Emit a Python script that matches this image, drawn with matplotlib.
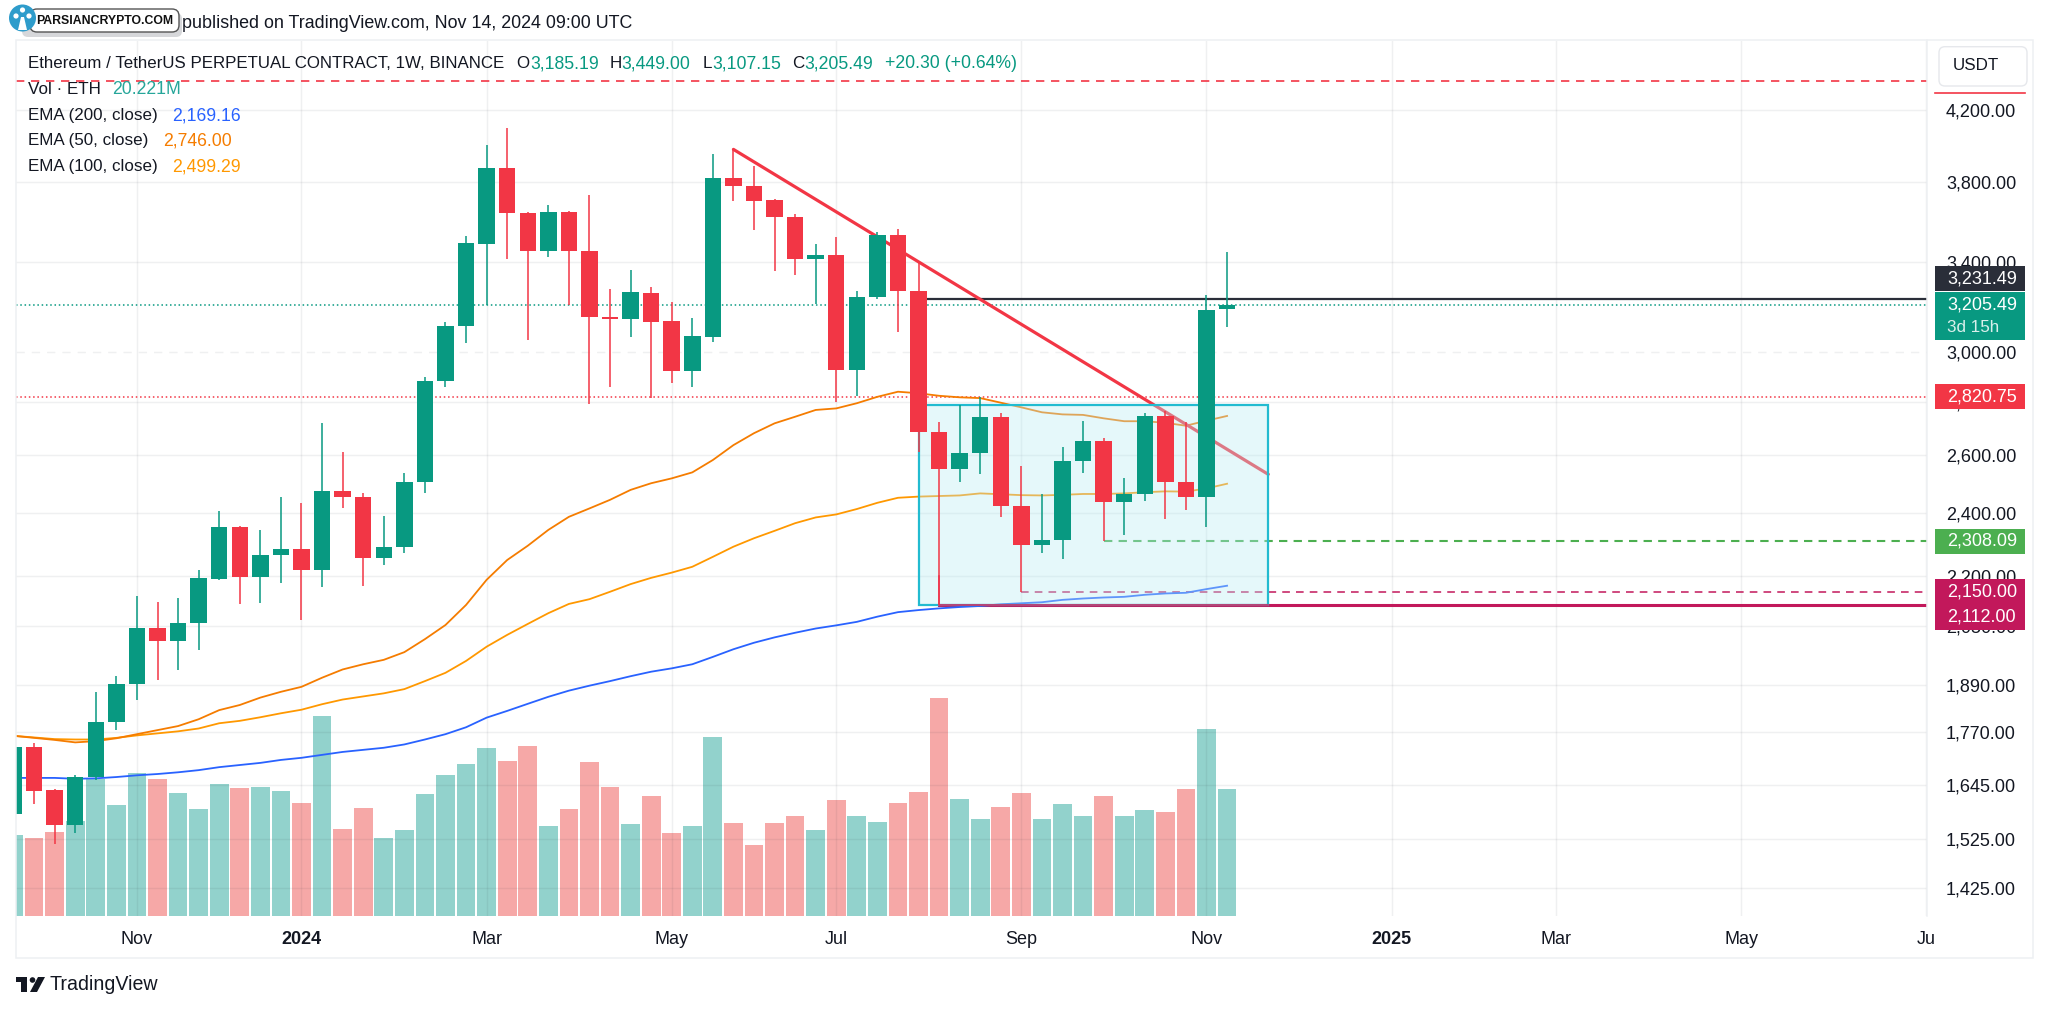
import matplotlib
matplotlib.use("Agg")
import matplotlib.pyplot as plt
from matplotlib.patches import Rectangle, FancyBboxPatch, Circle, Polygon
from matplotlib.ticker import NullLocator

plt.rcParams['font.family'] = ['Liberation Sans', 'DejaVu Sans']

# --- weekly candles ---
opens = [1579, 1733, 1633, 1556, 1662, 1795, 1892, 2045, 2010, 2059,
         2189, 2354, 2195, 2264, 2284, 2218, 2474, 2455, 2254, 2288,
         2504, 2883, 3111, 3488, 3876, 3642, 3452, 3647, 3453, 3152,
         3140, 3259, 3132, 2924, 3066, 3823, 3779, 3705, 3618, 3416,
         3434, 2928, 3238, 3531, 3265, 2687, 2551, 2609, 2741, 2424,
         2295, 2312, 2578, 2653, 2437, 2465, 2745, 2504, 2455, 3185.19]
highs = [1740, 1744, 1635, 1668, 1872, 1914, 2139, 2121, 2133, 2217,
         2407, 2357, 2344, 2455, 2432, 2718, 2612, 2466, 2391, 2536,
         2897, 3129, 3526, 4001, 4094, 3647, 3681, 3650, 3732, 3274,
         3363, 3283, 3218, 3145, 3951, 3976, 3887, 3711, 3635, 3487,
         3519, 3266, 3544, 3560, 3395, 2722, 2788, 2818, 2758, 2563,
         2464, 2631, 2727, 2662, 2518, 2758, 2766, 2724, 3248, 3449.00]
lows = [1570, 1602, 1515, 1539, 1656, 1775, 1851, 1903, 1930, 1984,
        2187, 2114, 2117, 2178, 2068, 2166, 2415, 2168, 2232, 2269,
        2468, 2857, 3038, 3203, 3413, 3052, 3423, 3203, 2792, 2860,
        3063, 2814, 2876, 2857, 3044, 3703, 3555, 3358, 3340, 3209,
        2801, 2823, 3230, 3086, 2613, 2112, 2506, 2532, 2387, 2150,
        2271, 2252, 2538, 2308, 2327, 2441, 2381, 2410, 2354, 3107.15]
closes = [1733, 1631, 1556, 1663, 1795, 1892, 2045, 2010, 2061, 2192,
          2352, 2195, 2264, 2284, 2218, 2474, 2455, 2254, 2288, 2504,
          2883, 3113, 3490, 3876, 3642, 3452, 3647, 3452, 3150, 3140,
          3260, 3130, 2924, 3067, 3823, 3777, 3703, 3618, 3416, 3435,
          2928, 3239, 3531, 3265, 2687, 2551, 2609, 2741, 2424, 2295,
          2312, 2580, 2653, 2437, 2465, 2745, 2504, 2455, 3181, 3205.49]
volumes = [12.88, 12.4, 13.36, 15.17, 21.8, 17.72, 22.78, 21.82, 19.64, 17.14,
           21.07, 20.49, 20.6, 19.9, 18.04, 31.93, 13.84, 17.24, 12.51, 13.73,
           19.53, 22.51, 24.21, 26.77, 24.69, 27.09, 14.42, 17.08, 24.53, 20.6,
           14.64, 19.11, 13.25, 14.42, 28.58, 14.9, 11.28, 14.9, 15.91, 13.73,
           18.52, 15.97, 15.06, 18.04, 19.74, 34.75, 18.63, 15.43, 17.46, 19.64,
           15.54, 17.83, 15.91, 19.16, 15.97, 16.87, 16.6, 20.33, 29.91, 20.221]

ema50 = [1761, 1756, 1751, 1745, 1748, 1755, 1765, 1775, 1785, 1802,
         1825, 1838, 1857, 1872, 1885, 1909, 1931, 1945, 1957, 1978,
         2014, 2054, 2112, 2187, 2248, 2293, 2344, 2387, 2415, 2444,
         2478, 2501, 2518, 2539, 2583, 2637, 2681, 2718, 2743, 2769,
         2775, 2795, 2820, 2840, 2834, 2824, 2818, 2815, 2797, 2779,
         2760, 2752, 2750, 2737, 2726, 2726, 2720, 2709, 2728, 2746.00]
ema100 = [1761, 1757, 1753, 1752, 1752, 1756, 1762, 1767, 1772, 1779,
          1792, 1798, 1807, 1817, 1826, 1840, 1852, 1860, 1868, 1879,
          1900, 1922, 1954, 1993, 2026, 2057, 2088, 2115, 2129, 2151,
          2174, 2193, 2209, 2227, 2258, 2290, 2317, 2341, 2366, 2385,
          2395, 2413, 2434, 2451, 2455, 2457, 2459, 2466, 2463, 2460,
          2459, 2461, 2464, 2464, 2466, 2470, 2473, 2472, 2483, 2499.29]
ema200 = [1661, 1661, 1661, 1659, 1660, 1663, 1667, 1670, 1674, 1679,
          1686, 1691, 1696, 1703, 1708, 1715, 1722, 1727, 1732, 1740,
          1752, 1765, 1782, 1806, 1823, 1841, 1859, 1875, 1888, 1900,
          1913, 1925, 1934, 1945, 1965, 1986, 2004, 2019, 2032, 2044,
          2053, 2063, 2078, 2091, 2097, 2102, 2106, 2109, 2114, 2117,
          2120, 2127, 2131, 2134, 2136, 2142, 2146, 2148, 2159, 2169.16]

price_ticks = [4200, 3800, 3400, 3000, 2800, 2600, 2400, 2200, 2050, 1890, 1770, 1645, 1525, 1425]
month_pos = [6, 14, 23, 32, 40, 49, 58, 67, 75, 84, 93]
month_labels = ['Nov', '2024', 'Mar', 'May', 'Jul', 'Sep', 'Nov', '2025', 'Mar', 'May', 'Ju']

GREEN = '#089981'
RED = '#F23645'
INK = '#131722'
W, H = 2048, 1011

fig = plt.figure(figsize=(W / 100, H / 100), dpi=100, facecolor='white')

def pt(px):
    return px * 0.72

# pane: 16..1927 px across, 41..916 px down
rect = [16 / W, 1 - 916 / H, (1927 - 16) / W, (916 - 41) / H]
vol = fig.add_axes(rect)
ax = fig.add_axes(rect, sharex=vol)
ax.patch.set_visible(False)

x = list(range(len(opens)))
up = [c >= o for o, c in zip(opens, closes)]

# --- volume ---
vol.bar(x, volumes, width=0.91,
        color=['#26A69A' if u else '#EF5350' for u in up], alpha=0.5, linewidth=0)
vol.set_ylim(0, 139.7)
vol.set_yticks([])
vol.tick_params(axis='x', length=0, labelbottom=False)
for s in vol.spines.values():
    s.set_visible(False)

# --- price axis ---
ax.set_yscale('log')
ax.set_xlim(0.12, 93.03)
ax.set_ylim(1371.1, 4622.5)
ax.yaxis.tick_right()
ax.set_yticks(price_ticks)
ax.set_yticklabels([f'{p:,.2f}' for p in price_ticks], fontsize=pt(18), color=INK)
ax.yaxis.set_minor_locator(NullLocator())
ax.tick_params(axis='y', length=0, pad=pt(19))
ax.set_xticks(month_pos)
ax.set_xticklabels(month_labels, fontsize=pt(18), color=INK)
ax.get_xticklabels()[1].set_fontweight('bold')
ax.get_xticklabels()[7].set_fontweight('bold')
ax.tick_params(axis='x', length=0, pad=pt(15))
ax.grid(True, color='#2A2E39', alpha=0.07, linewidth=1.0)
ax.set_axisbelow(True)
ax.get_ygridlines()[price_ticks.index(3000)].set_linestyle((0, (6, 5)))
for s in ax.spines.values():
    s.set_visible(False)

# --- price lines ---
ax.axhline(4372.6, color=RED, lw=1.2, ls=(0, (5, 4)), zorder=2)
ax.axhline(3205.49, color=GREEN, lw=1.1, ls=(0, (1, 1.8)), zorder=2)
ax.axhline(2820.75, color=RED, lw=1.1, ls=(0, (1, 1.8)), zorder=2)
ax.plot([44.4, 93.03], [3231.49, 3231.49], color='#2A2E39', lw=1.6, zorder=2)
ax.plot([53, 93.03], [2308.09, 2308.09], color='#4CAF50', lw=1.5, ls=(0, (4, 3)), zorder=2)
ax.plot([49, 93.03], [2150, 2150], color='#C2185B', lw=1.1, ls=(0, (5, 4)), zorder=2)
ax.plot([45, 93.03], [2112, 2112], color='#C2185B', lw=2.2, zorder=2)

# --- EMAs ---
ax.plot(x, ema200, color='#2962FF', lw=1.3, zorder=2)
ax.plot(x, ema100, color='#FF9800', lw=1.3, zorder=2)
ax.plot(x, ema50, color='#F57C00', lw=1.3, zorder=2)

# --- trend line, then the box over it (washes the lines out), the candles stay on top ---
ax.plot([35, 61], [3976.5, 2532.3], color=RED, lw=2.3, zorder=2, solid_capstyle='round')
ax.add_patch(Rectangle((44, 2112), 17, 2788 - 2112, facecolor='white', alpha=0.3, lw=0, zorder=3))
ax.add_patch(Rectangle((44, 2112), 17, 2788 - 2112, facecolor='#00BCD4', alpha=0.1, lw=0, zorder=3))
ax.add_patch(Rectangle((44, 2112), 17, 2788 - 2112, fill=False, edgecolor='#22BBD0', lw=1.6, zorder=3))
ax.plot([45, 45, 61], [2200, 2112, 2112], color='#E0245E', lw=1.1, zorder=3)

# --- candles ---
cols = [GREEN if u else RED for u in up]
ax.vlines(x, lows, highs, colors=cols, lw=1.1, zorder=4)
ax.bar(x, [abs(c - o) for o, c in zip(opens, closes)], bottom=[min(o, c) for o, c in zip(opens, closes)],
       width=0.8, color=cols, linewidth=0, zorder=4)

# --- overlay in pixels: frame, header, legend, tags, logos ---
ov = fig.add_axes([0, 0, 1, 1])
ov.set_xlim(0, W)
ov.set_ylim(H, 0)
ov.axis('off')
ov.patch.set_visible(False)

ov.add_patch(Rectangle((16, 40), 2033 - 16, 958 - 40, fill=False, edgecolor='#EEF0F3', lw=1.1))
ov.plot([1927, 1927], [40, 916], color='#EEF0F3', lw=1.1)

def txt(xp, yp, s, color=INK, size=17, **kw):
    ov.text(xp, yp, s, color=color, fontsize=pt(size), va='center', ha=kw.pop('ha', 'left'), **kw)

txt(182, 23.5, 'published on TradingView.com, Nov 14, 2024 09:00 UTC', size=17.85)

LEG = '#089981'
NUM = 17.6
txt(28, 64, 'Ethereum / TetherUS PERPETUAL CONTRACT, 1W, BINANCE', size=16.85)
for xl, l, xv, v in [(516, 'O', 530, '3,185.19'), (610, 'H', 621, '3,449.00'),
                     (703, 'L', 712, '3,107.15'), (792, 'C', 804, '3,205.49')]:
    txt(xl, 64, l)
    txt(xv, 64, v, color=LEG, size=NUM)
txt(885, 64, '+20.30 (+0.64%)', color=LEG, size=NUM)
txt(28, 90, 'Vol · ETH')
txt(112, 90, '20.221M', color='#26A69A', size=NUM)
txt(28, 115.7, 'EMA (200, close)')
txt(172, 115.7, '2,169.16', color='#2962FF', size=NUM)
txt(28, 141, 'EMA (50, close)')
txt(163, 141, '2,746.00', color='#F57C00', size=NUM)
txt(28, 166.7, 'EMA (100, close)')
txt(172, 166.7, '2,499.29', color='#FF9800', size=NUM)

# USDT button
ov.add_patch(FancyBboxPatch((1939, 46.7), 88, 39.3, boxstyle='round,pad=0,rounding_size=6',
                            facecolor='white', edgecolor='#E6E8EC', lw=1))
txt(1953, 66, 'USDT', size=17)
ov.plot([1935, 2025], [92.7, 92.7], color=RED, lw=1.2)

# price tags, shift is how far the label got pushed off its price
def price_y(p):
    return ov.transData.inverted().transform(ax.transData.transform((0, p)))[1]

tags = [(3231.49, '3,231.49', '#2A2E39', -20, 25),
        (3205.49, '3,205.49', GREEN, 0, 25),
        (2820.75, '2,820.75', RED, 0, 25),
        (2308.09, '2,308.09', '#4CAF50', 0, 25),
        (2150.00, '2,150.00', '#C2185B', 0, 26),
        (2112.00, '2,112.00', '#C2185B', 12.5, 25)]
for p, s, c, shift, h in tags:
    yc = price_y(p) + shift
    ov.add_patch(Rectangle((1935, yc - h / 2), 90, h, facecolor=c, lw=0))
    txt(1947, yc, s, color='white', size=18)
yc = price_y(3205.49)
ov.add_patch(Rectangle((1935, yc + 12), 90, 23, facecolor=GREEN, lw=0))
txt(1947, yc + 23, '3d 15h', color='white', size=17, alpha=0.85)

# watermark badge
ov.add_patch(FancyBboxPatch((22, 13), 160, 24, boxstyle='round,pad=0,rounding_size=6',
                            facecolor='#8A8F96', edgecolor='none', alpha=0.35))
ov.add_patch(FancyBboxPatch((30, 9), 149, 23, boxstyle='round,pad=0,rounding_size=7',
                            facecolor='white', edgecolor='#555555', lw=1))
ov.add_patch(Circle((22.5, 18), 13.5, facecolor='#2E9CCB', edgecolor='none'))
ov.add_patch(Polygon([(21, 17), (24, 17), (27, 30), (18, 30)], facecolor='white', edgecolor='none'))
for cx, cy in [(22.5, 10), (16, 16), (29, 16)]:
    ov.add_patch(Circle((cx, cy), 2.6, facecolor='white', edgecolor='none'))
txt(36, 20.5, 'PARSIANCRYPTO.COM', size=12.2, color='#111111', fontweight='bold')

# TradingView logo
ov.add_patch(Polygon([(15.6, 977), (27, 977), (27, 992), (21, 992), (21, 982), (15.6, 982)],
                     facecolor='#131722', edgecolor='none'))
ov.add_patch(Circle((32.5, 980), 2.8, facecolor='#131722', edgecolor='none'))
ov.add_patch(Polygon([(38, 977), (45, 977), (37, 992), (30, 992)], facecolor='#131722', edgecolor='none'))
txt(50, 984, 'TradingView', size=19.7)

fig.savefig('out.png', dpi=100, facecolor='white')
